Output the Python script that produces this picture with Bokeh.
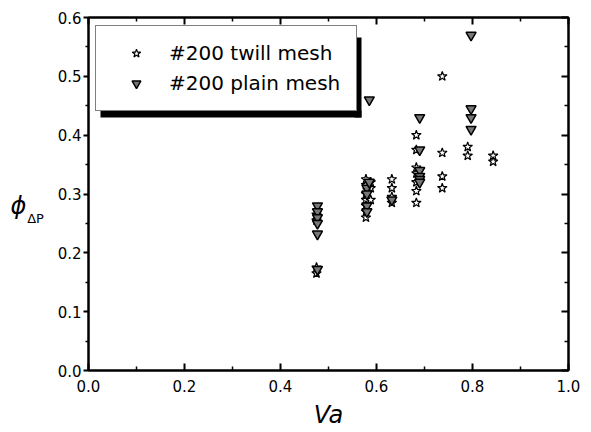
from bokeh.plotting import figure
from bokeh.models import (Legend, LegendItem, LinearAxis, FixedTicker,
                          Label, BoxAnnotation, Range1d, PrintfTickFormatter)
from bokeh.embed import file_html
from bokeh.resources import INLINE

# ---- data ----
twill_x = [0.475, 0.475, 0.475, 0.475,
           0.578, 0.578, 0.578, 0.578, 0.578, 0.578, 0.578,
           0.588, 0.588, 0.588,
           0.632, 0.632, 0.632, 0.632,
           0.683, 0.683, 0.683, 0.683, 0.683, 0.683, 0.683,
           0.737, 0.737, 0.737, 0.737,
           0.790, 0.790,
           0.843, 0.843]
twill_y = [0.265, 0.255, 0.175, 0.165,
           0.325, 0.315, 0.300, 0.290, 0.280, 0.270, 0.260,
           0.320, 0.310, 0.290,
           0.325, 0.310, 0.295, 0.285,
           0.400, 0.375, 0.345, 0.335, 0.320, 0.305, 0.285,
           0.500, 0.370, 0.330, 0.310,
           0.380, 0.365,
           0.365, 0.355]
plain_x = [0.477, 0.477, 0.477, 0.477, 0.477, 0.477,
           0.580, 0.580, 0.580, 0.580,
           0.585, 0.585,
           0.632,
           0.690, 0.690, 0.690, 0.690, 0.690, 0.690,
           0.797, 0.797, 0.797, 0.797]
plain_y = [0.280, 0.270, 0.260, 0.250, 0.232, 0.172,
           0.310, 0.300, 0.280, 0.270,
           0.460, 0.320,
           0.290,
           0.430, 0.375, 0.340, 0.330, 0.325, 0.320,
           0.570, 0.445, 0.430, 0.410]
labels = ["#200 twill mesh", "#200 plain mesh"]
x_ticks = [0.0, 0.2, 0.4, 0.6, 0.8, 1.0]
x_minor = [0.1, 0.3, 0.5, 0.7, 0.9]
y_ticks = [0.0, 0.1, 0.2, 0.3, 0.4, 0.5, 0.6]
y_minor = [0.05, 0.15, 0.25, 0.35, 0.45, 0.55]
x_label = "Va"
y_label_main = "\u03d5"
y_label_sub = "\u0394P"

FONT = "DejaVu Sans"
L, R, T, B = 88, 23, 17, 62
W, H = 591, 432
FW, FH = W - L - R, H - T - B

p = figure(width=W, height=H, output_backend="svg", toolbar_location=None,
           x_range=Range1d(0.0, 1.0), y_range=Range1d(0.0, 0.6),
           min_border_left=L, min_border_right=R, min_border_top=T,
           min_border_bottom=B)
p.grid.visible = False
p.outline_line_color = "black"
p.outline_line_width = 2

r_star = p.scatter(twill_x, twill_y, marker="star", size=10, fill_color="white",
                   line_color="black", line_width=1.2)
r_tri = p.scatter(plain_x, plain_y, marker="inverted_triangle", size=10,
                  fill_color="#777777", line_color="black", line_width=1.5)

xa = p.xaxis[0]
ya = p.yaxis[0]
xa.ticker = FixedTicker(ticks=x_ticks, minor_ticks=x_minor)
ya.ticker = FixedTicker(ticks=y_ticks, minor_ticks=y_minor)
xa.formatter = PrintfTickFormatter(format="%.1f")
ya.formatter = PrintfTickFormatter(format="%.1f")
for ax in (xa, ya):
    ax.axis_line_width = 2
    ax.major_tick_line_width = 2
    ax.minor_tick_line_width = 1.5
    ax.major_label_text_font = FONT
    ax.major_label_text_font_size = "15px"
    ax.major_label_text_color = "black"
xa.major_tick_in = 7; xa.major_tick_out = 0
xa.minor_tick_in = 4; xa.minor_tick_out = 0
ya.major_tick_in = 0; ya.major_tick_out = 5
ya.minor_tick_in = 0; ya.minor_tick_out = 3
xa.major_label_standoff = 9
ya.major_label_standoff = 2

xa.axis_label = x_label
xa.axis_label_text_font = FONT
xa.axis_label_text_font_style = "italic"
xa.axis_label_text_font_size = "24px"
xa.axis_label_text_color = "black"
xa.axis_label_standoff = 6

top = LinearAxis(ticker=FixedTicker(ticks=x_ticks, minor_ticks=x_minor),
                 major_label_overrides={t: "" for t in x_ticks},
                 major_tick_in=7, major_tick_out=0,
                 minor_tick_in=4, minor_tick_out=0, axis_line_width=2,
                 major_tick_line_width=2, minor_tick_line_width=1.5)
right = LinearAxis(ticker=FixedTicker(ticks=y_ticks, minor_ticks=y_minor),
                   major_label_overrides={t: "" for t in y_ticks},
                   major_tick_in=7, major_tick_out=0,
                   minor_tick_in=4, minor_tick_out=0, axis_line_width=2,
                   major_tick_line_width=2, minor_tick_line_width=1.5)
p.add_layout(top, "above")
p.add_layout(right, "right")

# y-axis label: phi with subscript, placed in the left side panel
p.add_layout(Label(x=-20, y=(H - B) - 205, x_units="screen", y_units="screen",
                   text=y_label_main, text_font="DejaVu Sans",
                   text_font_style="italic", text_font_size="24px",
                   text_color="black",
                   text_align="center", text_baseline="middle"), "left")
p.add_layout(Label(x=14, y=(H - B) - 218, x_units="screen", y_units="screen",
                   text=y_label_sub, text_font=FONT,
                   text_font_size="13px", text_color="black", text_align="center",
                   text_baseline="middle"), "left")

# legend shadow (pixel box converted to data)
def dx(px):
    return (px - L) / FW * 1.0
def dy(py):
    return ((H - B) - py) / FH * 0.6

p.add_layout(BoxAnnotation(left=dx(100), right=dx(361), top=dy(110), bottom=dy(117),
                           fill_color="black", fill_alpha=1, line_alpha=0, level="underlay"))
p.add_layout(BoxAnnotation(left=dx(354), right=dx(361), top=dy(37), bottom=dy(117),
                           fill_color="black", fill_alpha=1, line_alpha=0, level="underlay"))

legend = Legend(items=[LegendItem(label=labels[0], renderers=[r_star]),
                       LegendItem(label=labels[1], renderers=[r_tri])],
                location=(95 - L, (H - B) - 111), margin=0, padding=15, spacing=6,
                glyph_width=50, glyph_height=22, label_height=22, label_width=172,
                label_standoff=8, label_text_font=FONT, label_text_color="black",
                label_text_font_size="20px", border_line_color="black",
                border_line_width=1.5, background_fill_alpha=1)
p.add_layout(legend, "center")

open("out.html", "w").write(file_html(p, INLINE))
